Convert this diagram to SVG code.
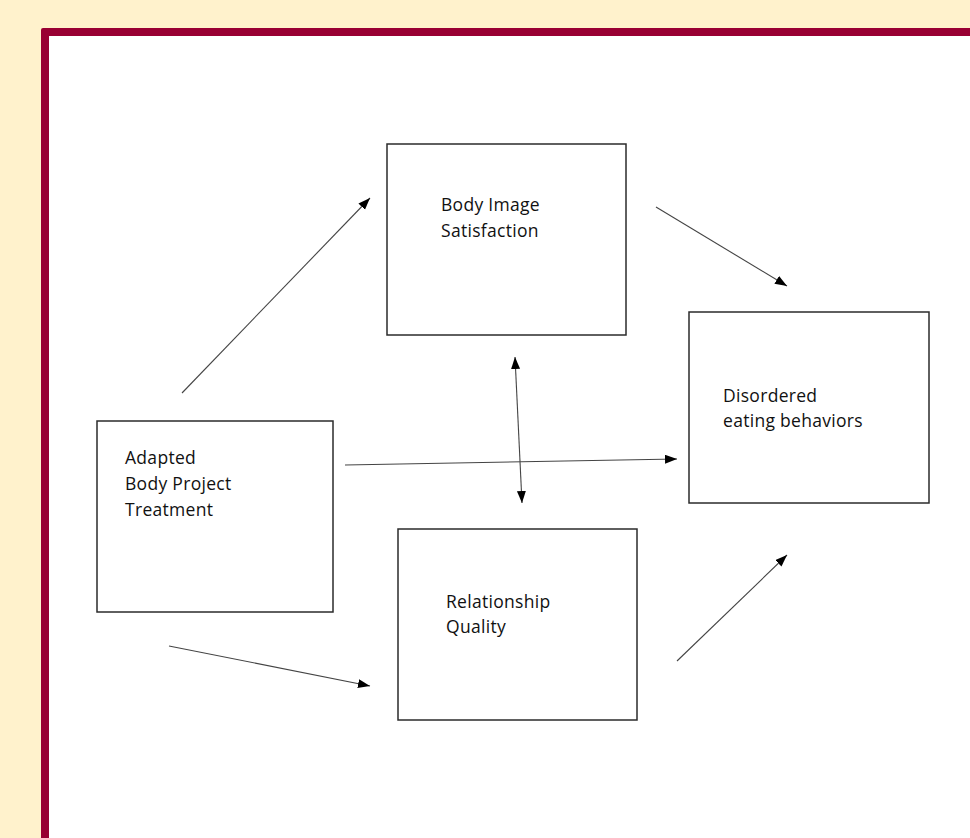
<svg xmlns="http://www.w3.org/2000/svg" width="970" height="838" viewBox="0 0 970 838">
<style>
.box{fill:#fff;stroke:#2b2b2b;stroke-width:1.5}
.lbl{font-family:"Open Sans","Liberation Sans",sans-serif;font-size:17.5px;letter-spacing:0.3px;fill:#111}
.con{stroke:#444;stroke-width:1.1;fill:none}
</style>
<defs>
<marker id="ah" markerUnits="userSpaceOnUse" markerWidth="13" markerHeight="10" refX="12" refY="4.5" orient="auto-start-reverse">
<path d="M0,0 L12,4.5 L0,9 z" fill="#000"/>
</marker>
</defs>
<rect x="0" y="0" width="970" height="838" fill="#FFF2CC"/>
<rect x="41" y="28" width="940" height="820" rx="2" fill="#990033"/>
<rect x="49" y="36" width="930" height="810" fill="#fff"/>
<g id="connectors">
<line class="con" x1="182" y1="393" x2="370" y2="198" marker-end="url(#ah)"/>
<line class="con" x1="656" y1="207" x2="787" y2="286" marker-end="url(#ah)"/>
<line class="con" x1="345" y1="465" x2="677" y2="459" marker-end="url(#ah)"/>
<line class="con" x1="515" y1="357" x2="522" y2="503" marker-start="url(#ah)" marker-end="url(#ah)"/>
<line class="con" x1="169" y1="646" x2="370" y2="686" marker-end="url(#ah)"/>
<line class="con" x1="677" y1="661" x2="787" y2="555" marker-end="url(#ah)"/>
</g>
<g id="body-image">
<rect class="box" x="387" y="144" width="239" height="191"/>
<text class="lbl" x="441" y="211">Body Image</text>
<text class="lbl" x="441" y="237">Satisfaction</text>
</g>
<g id="disordered">
<rect class="box" x="689" y="312" width="240" height="191"/>
<text class="lbl" x="723" y="402">Disordered</text>
<text class="lbl" x="723" y="427">eating behaviors</text>
</g>
<g id="adapted">
<rect class="box" x="97" y="421" width="236" height="191"/>
<text class="lbl" x="125" y="464">Adapted</text>
<text class="lbl" x="125" y="490">Body Project</text>
<text class="lbl" x="125" y="516">Treatment</text>
</g>
<g id="relationship">
<rect class="box" x="398" y="529" width="239" height="191"/>
<text class="lbl" x="446" y="608">Relationship</text>
<text class="lbl" x="446" y="633">Quality</text>
</g>
</svg>
